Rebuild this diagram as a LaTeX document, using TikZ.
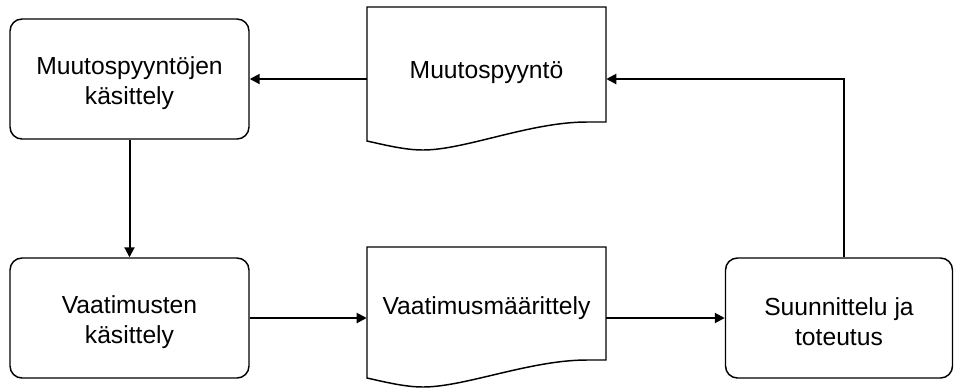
\documentclass[tikz,border=0pt]{standalone}
\usepackage{fontspec}
\setmainfont{Liberation Sans}
\usetikzlibrary{arrows.meta}
\tikzset{
  procbox/.style={draw, line width=1.1pt, rounded corners=9pt,
    minimum width=239*0.75pt, minimum height=120*0.75pt, inner sep=0pt},
  boxlabel/.style={align=center, inner sep=0pt,
    font=\fontsize{18.5pt}{22.5pt}\selectfont},
  docarea/.style={inner sep=0pt, minimum width=239*0.75pt},
  doclabel/.style={inner sep=0pt, anchor=base,
    font=\fontsize{18.5pt}{22.5pt}\selectfont},
  docline/.style={line width=1.1pt, line join=miter},
  flow/.style={line width=1.5pt, -{Triangle[length=7.5pt,width=7.5pt]}}
}
\begin{document}
\begin{tikzpicture}[x=0.75pt, y=-0.75pt]
  \useasboundingbox (0,0) rectangle (954,387);

  % process boxes
  \node[procbox] (change) at (129.5,79) {};
  \node[boxlabel] (changetext) at ([yshift=-3pt]change.center) {Muutospyyntöjen\\käsittely};
  \node[procbox] (req) at (129.5,318) {};
  \node[boxlabel] (reqtext) at ([yshift=-3pt]req.center) {Vaatimusten\\käsittely};
  \node[procbox, minimum width=227*0.75pt] (design) at (839,318) {};
  \node[boxlabel] (designtext) at ([yshift=-3pt]design.center) {Suunnittelu ja\\toteutus};

  % document: change request
  \node[docarea, minimum height=144*0.75pt] (crdoc) at (486.5,79) {};
  \draw[docline] (367,141) -- (367,7) -- (606,7) -- (606,122) -- (587,122)
    .. controls (530,122) and (465,150) .. (423,150)
    .. controls (405,150) and (385,145) .. cycle;
  \node[doclabel] (crlabel) at (486.5,78) {Muutospyyntö};

  % document: requirements specification
  \node[docarea, minimum height=142*0.75pt] (spec) at (486.5,318) {};
  \draw[docline] (367,378) -- (367,247) -- (606,247) -- (606,360) -- (587,360)
    .. controls (530,360) and (465,387) .. (423,387)
    .. controls (405,387) and (385,382) .. cycle;
  \node[doclabel] (speclabel) at (486.5,314) {Vaatimusmäärittely};

  % connectors
  \draw[flow] (crdoc.west) -- (change.east);
  \draw[flow] (change.south) -- (req.north);
  \draw[flow] (req.east) -- (spec.west);
  \draw[flow] (spec.east) -- (design.west);
  \draw[flow] ([xshift=3.6pt]design.north) |- (crdoc.east);
\end{tikzpicture}
\end{document}
